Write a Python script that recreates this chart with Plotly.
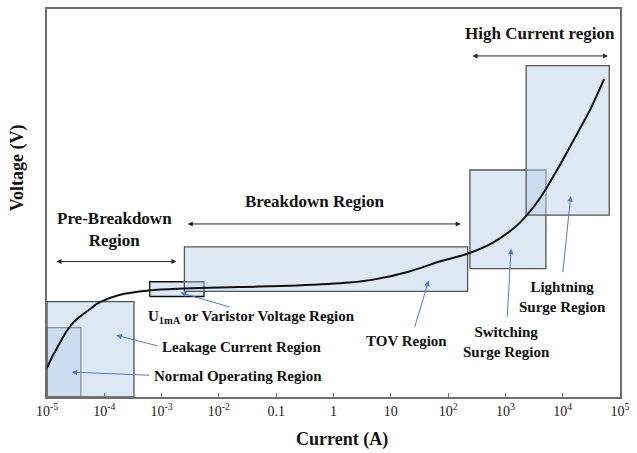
import plotly.graph_objects as go

# ---- data ----
curve_current = [1.0e-5, 1.22e-5, 1.49e-5, 1.82e-5, 2.21e-5, 2.92e-5, 4.01e-5, 5.51e-5,
                 8.2e-5, 1.82e-4, 5.97e-4, 2.49e-3, 0.0213, 0.230, 1.89, 5.51, 20.4,
                 78.9, 230, 574, 1429, 2393, 4178, 7889, 15490, 30410, 52970]
curve_voltage = [7.44, 10.26, 12.56, 14.9, 17.0, 19.3, 21.03, 22.56, 24.36, 26.28,
                 27.44, 27.95, 28.33, 28.72, 29.49, 30.38, 32.3, 35.1, 37.05, 39.6,
                 43.6, 46.92, 51.6, 58.4, 66.2, 74.2, 81.97]

box_names = ["Normal Operating", "Leakage Current", "U1mA", "TOV", "Switching Surge", "Lightning Surge"]
box_i_lo = [1.0e-5, 1.0e-5, 6.2e-4, 2.5e-3, 240, 2300]
box_i_hi = [3.9e-5, 3.3e-4, 5.5e-3, 219, 5100, 6.5e4]
box_v_lo = [0.0, 0.0, 25.9, 27.2, 33.1, 46.9]
box_v_hi = [17.9, 24.6, 29.7, 38.7, 58.5, 85.4]
box_edge = ["#555555", "#555555", "#111111", "#555555", "#555555", "#555555"]

tick_vals = [1e-5, 1e-4, 1e-3, 1e-2, 0.1, 1, 10, 100, 1e3, 1e4, 1e5]
tick_text = ["10<sup>-5</sup>", "10<sup>-4</sup>", "10<sup>-3</sup>", "10<sup>-2</sup>", "0.1", "1",
             "10", "10<sup>2</sup>", "10<sup>3</sup>", "10<sup>4</sup>", "10<sup>5</sup>"]

SERIF = "Liberation Serif, Times New Roman, serif"

fig = go.Figure()
for i in range(len(box_names)):
    fig.add_trace(go.Scatter(
        x=[box_i_lo[i], box_i_hi[i], box_i_hi[i], box_i_lo[i], box_i_lo[i]],
        y=[box_v_lo[i], box_v_lo[i], box_v_hi[i], box_v_hi[i], box_v_lo[i]],
        mode="lines", fill="toself", fillcolor="rgba(185,209,233,0.5)",
        line=dict(color=box_edge[i], width=1.3), hoverinfo="skip", showlegend=False))

fig.add_trace(go.Scatter(x=curve_current, y=curve_voltage, mode="lines",
                         line=dict(color="#111111", width=2, shape="spline", smoothing=1.0),
                         showlegend=False))

ann = []
def label(text, lx, vy, size=15):
    ann.append(dict(x=lx, y=vy, xref="x", yref="y", text=text, showarrow=False,
                    font=dict(family=SERIF, size=size, color="#111111")))

def pointer(tx, ty, hx, hy):
    ann.append(dict(x=hx, y=hy, ax=tx, ay=ty, xref="x", yref="y", axref="x", ayref="y",
                    text="", showarrow=True, arrowhead=2, arrowsize=1.1, arrowwidth=1,
                    arrowcolor="#4a7bd4"))

def dbl(x0, x1, vy):
    ann.append(dict(x=x1, y=vy, ax=x0, ay=vy, xref="x", yref="y", axref="x", ayref="y",
                    text="", showarrow=True, arrowhead=2, startarrowhead=2, arrowside="end+start",
                    arrowsize=1, startarrowsize=1, arrowwidth=1, arrowcolor="#222222"))

label("<b>Pre-Breakdown<br>Region</b>", -3.83, 43.1, 17)
label("<b>Breakdown Region</b>", -0.33, 50.5, 17)
label("<b>High Current region</b>", 3.6, 93.6, 17)
label("<b>U<sub>1mA</sub> or Varistor Voltage Region</b>", -1.43, 20.5)
label("<b>Leakage Current Region</b>", -1.59, 12.8)
label("<b>Normal Operating Region</b>", -1.66, 5.4)
label("<b>TOV Region</b>", 1.28, 14.4)
label("<b>Switching<br>Surge Region</b>", 3.02, 14.2)
label("<b>Lightning<br>Surge Region</b>", 4.0, 25.8)

pointer(-1.79, 23.1, -2.67, 26.9)
pointer(-3.05, 13.1, -3.79, 15.9)
pointer(-3.19, 5.6, -4.57, 6.4)
pointer(1.41, 17.7, 1.66, 30.0)
pointer(3.03, 20.3, 3.10, 38.2)
pointer(4.0, 31.8, 4.14, 51.8)

dbl(-4.86, -2.74, 34.9)
dbl(-2.57, 2.22, 44.6)
dbl(2.40, 4.79, 87.9)

ann.append(dict(x=-0.052, y=0.59, xref="paper", yref="paper", text="<b>Voltage (V)</b>",
                xanchor="center", yanchor="middle",
                textangle=-90, showarrow=False, font=dict(family=SERIF, size=18, color="#111111")))
ann.append(dict(x=0.514, y=-0.11, xref="paper", yref="paper", text="<b>Current (A)</b>",
                xanchor="center", yanchor="middle",
                showarrow=False, font=dict(family=SERIF, size=18, color="#111111")))

fig.update_layout(
    width=637, height=453, margin=dict(l=47, r=10, t=7, b=56),
    paper_bgcolor="white", plot_bgcolor="white", annotations=ann,
    xaxis=dict(type="log", range=[-5, 5], tickvals=tick_vals, ticktext=tick_text,
               ticks="inside", ticklen=4, tickcolor="#777777", showgrid=False, zeroline=False,
               showline=True, linecolor="#6f6f6f", linewidth=1.5, mirror=True,
               tickfont=dict(family=SERIF, size=14, color="#222222")),
    yaxis=dict(range=[0, 100], showticklabels=False, ticks="", showgrid=False, zeroline=False,
               showline=True, linecolor="#6f6f6f", linewidth=1.5, mirror=True),
)

fig.write_html("out.html")
